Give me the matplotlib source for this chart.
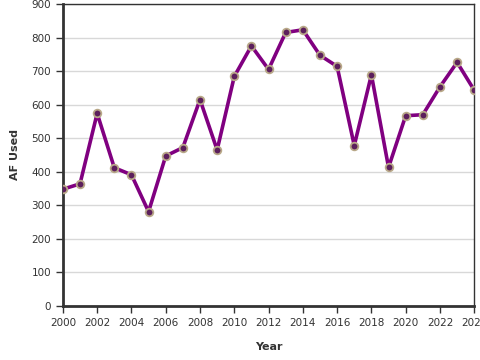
import matplotlib
matplotlib.use("Agg")
import matplotlib.pyplot as plt

years = list(range(2000, 2025))
af_used = [348, 364, 574, 412, 391, 281, 447, 472, 615, 465, 684,
           775, 705, 815, 823, 747, 714, 478, 689, 413, 567, 570,
           653, 726, 643]

fig = plt.figure(figsize=(4.8, 3.6), dpi=100)
ax = fig.add_axes([0.131, 0.15, 0.857, 0.839])

ax.plot(years, af_used, color="#800080", linewidth=2.6, zorder=3)
ax.plot(years, af_used, linestyle="none", marker="o", markersize=5.5,
        markerfacecolor="#5c1f5c", markeredgecolor="#b8a888",
        markeredgewidth=1.3, zorder=4)

ax.set_xlim(2000, 2024)
ax.set_ylim(0, 900)
ax.set_xticks(range(2000, 2025, 2))
ax.set_yticks(range(0, 901, 100))
ax.yaxis.grid(True, color="#d8d8d8", linewidth=1)
ax.set_axisbelow(True)

for side in ["left", "bottom"]:
    ax.spines[side].set_linewidth(2)
    ax.spines[side].set_color("#333333")
for side in ["top", "right"]:
    ax.spines[side].set_linewidth(1)
    ax.spines[side].set_color("#333333")

# 2024 label gets cut at the right edge, same as the original
ax.tick_params(labelsize=7.5, colors="#333333", length=5, width=1)
ax.set_xlabel("Year", fontsize=8, fontweight="bold", color="#333333", labelpad=10)
ax.set_ylabel("AF Used", fontsize=8, fontweight="bold", color="#333333", labelpad=8)

fig.savefig("out.png", dpi=100)
